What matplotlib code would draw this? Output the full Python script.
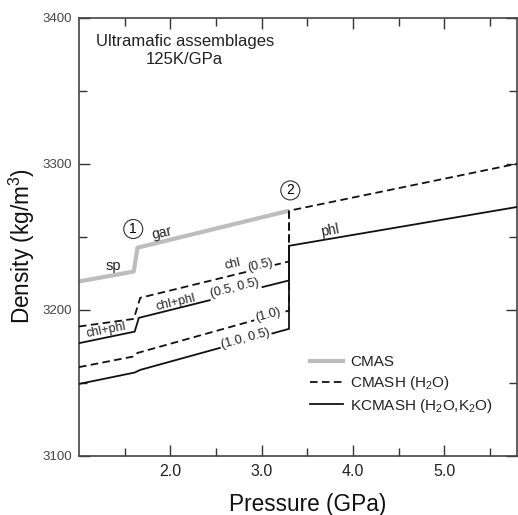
import matplotlib
matplotlib.use("Agg")
import matplotlib.pyplot as plt
from matplotlib.lines import Line2D

plt.rcParams['font.family'] = ['Liberation Sans', 'DejaVu Sans']
plt.rcParams['mathtext.fontset'] = 'custom'
plt.rcParams['mathtext.rm'] = 'Liberation Sans'
plt.rcParams['mathtext.it'] = 'Liberation Sans:italic'
plt.rcParams['mathtext.bf'] = 'Liberation Sans:bold'

# ---- data (pressure in GPa, density in kg/m^3) ----
P_cmas = [1.0, 1.60, 1.64, 3.30]
rho_cmas = [3219.4, 3226.2, 3242.5, 3267.8]

P_cmash_05 = [1.0, 1.60, 1.67, 3.30, 3.30, 5.8]
rho_cmash_05 = [3188.6, 3193.8, 3208.2, 3233.1, 3267.8, 3300.0]

P_cmash_10 = [1.0, 1.59, 1.64, 3.30, 3.30]
rho_cmash_10 = [3160.8, 3168.0, 3170.5, 3199.5, 3267.8]

P_kcmash_05 = [1.0, 1.61, 1.655, 3.30, 3.30, 5.8]
rho_kcmash_05 = [3177.2, 3185.1, 3194.5, 3220.1, 3243.8, 3270.4]

P_kcmash_10 = [1.0, 1.61, 1.67, 3.30, 3.30]
rho_kcmash_10 = [3149.3, 3157.1, 3158.9, 3187.0, 3243.8]

x_major = [2.0, 3.0, 4.0, 5.0]
x_major_labels = ["2.0", "3.0", "4.0", "5.0"]
x_minor = [1.5, 2.5, 3.5, 4.5, 5.5]
y_major = [3100, 3200, 3300, 3400]
y_minor = [3150, 3250, 3350]

legend_labels = ["CMAS", "CMASH (H$_2$O)", "KCMASH (H$_2$O,K$_2$O)"]

# ---- figure ----
W, H = 518, 515
fig = plt.figure(figsize=(W / 100, H / 100), dpi=100)
ax = fig.add_axes([79 / W, 1 - 456 / H, (517.3 - 79) / W, (456 - 17.5) / H])

gray = '#bdbdbd'
dash = (0, (4.2, 2.4))
ax.plot(P_cmas, rho_cmas, color=gray, lw=3.0, solid_capstyle='butt', zorder=2)
ax.plot(P_cmash_05, rho_cmash_05, color='#111111', lw=1.3, linestyle=dash, zorder=3)
ax.plot(P_cmash_10, rho_cmash_10, color='#111111', lw=1.3, linestyle=dash, zorder=3)
ax.plot(P_kcmash_05, rho_kcmash_05, color='#111111', lw=1.3, zorder=3)
ax.plot(P_kcmash_10, rho_kcmash_10, color='#111111', lw=1.3, zorder=3)

ax.set_xlim(1.0, 5.8)
ax.set_ylim(3100, 3400)
ax.set_xticks(x_major)
ax.set_xticklabels(x_major_labels)
ax.set_xticks(x_minor, minor=True)
ax.set_yticks(y_major)
ax.set_yticks(y_minor, minor=True)

ax.tick_params(which='both', direction='in', top=True, right=True, width=1.0, color='#333333')
ax.tick_params(which='major', length=8)
ax.tick_params(which='minor', length=6)
ax.tick_params(axis='x', which='major', labelsize=11.5, labelcolor='#222222', pad=6)
ax.tick_params(axis='y', which='major', labelsize=9.5, labelcolor='#444444', pad=5)
for s in ax.spines.values():
    s.set_linewidth(1.2)
    s.set_color('#444444')

fig.text(308 / W, 1 - 510.5 / H, 'Pressure (GPa)', ha='center', va='baseline',
         fontsize=16.3, color='#111111')
fig.text(22 / W, 1 - 246 / H, 'Density (kg/m$^3$)', ha='center', va='center',
         rotation=90, fontsize=16.3, color='#111111')

# title text
ax.text(1.0 + (185 - 79) / 91.5, 3100 + (456 - 50.5) / 1.46,
        'Ultramafic assemblages\n125K/GPa', ha='center', va='center',
        fontsize=12, color='#222222', linespacing=1.25)

lab = dict(fontsize=9, color='#222222', ha='center', va='center', zorder=5)
wb = dict(boxstyle='square,pad=0.12', fc='white', ec='none')

ax.text(1.372, 3229.7, 'sp', fontsize=10.5, color='#222222', ha='center', va='center')
ax.text(1.904, 3252.5, 'gar', rotation=12, fontsize=10, color='#222222', ha='center', va='center')
ax.text(3.751, 3254.3, 'phl', rotation=10, fontsize=10, color='#222222', ha='center', va='center')
ax.text(1.295, 3185.8, 'chl+phl', rotation=11, **lab)
ax.text(2.055, 3204.8, 'chl+phl', rotation=13, **lab)
ax.text(2.678, 3231.5, 'chl', rotation=13, **lab)
ax.text(2.984, 3230.5, '(0.5)', rotation=13, bbox=wb, **lab)
ax.text(2.705, 3215.0, '(0.5, 0.5)', rotation=14, bbox=wb, **lab)
ax.text(3.066, 3196.6, '(1.0)', rotation=15, bbox=wb, **lab)
ax.text(2.825, 3180.0, '(1.0, 0.5)', rotation=15, bbox=wb, **lab)

circ = dict(boxstyle='circle,pad=0.18', fc='white', ec='#333333', lw=0.8)
ax.text(1.594, 3255.3, '1', fontsize=10, ha='center', va='center', bbox=circ, zorder=6)
ax.text(3.314, 3281.7, '2', fontsize=10, ha='center', va='center', bbox=circ, zorder=6)

handles = [
    Line2D([], [], color=gray, lw=3.0),
    Line2D([], [], color='#111111', lw=1.3, linestyle=dash),
    Line2D([], [], color='#111111', lw=1.3),
]
leg = ax.legend(handles, legend_labels, loc='center left',
                bbox_to_anchor=((310 - 79) / 438.3, (456 - 385) / 438.5),
                frameon=False, fontsize=11, handlelength=2.15, handletextpad=0.5,
                labelspacing=0.3, borderpad=0, borderaxespad=0)
for t in leg.get_texts():
    t.set_color('#222222')

fig.savefig('out.png', dpi=100)
